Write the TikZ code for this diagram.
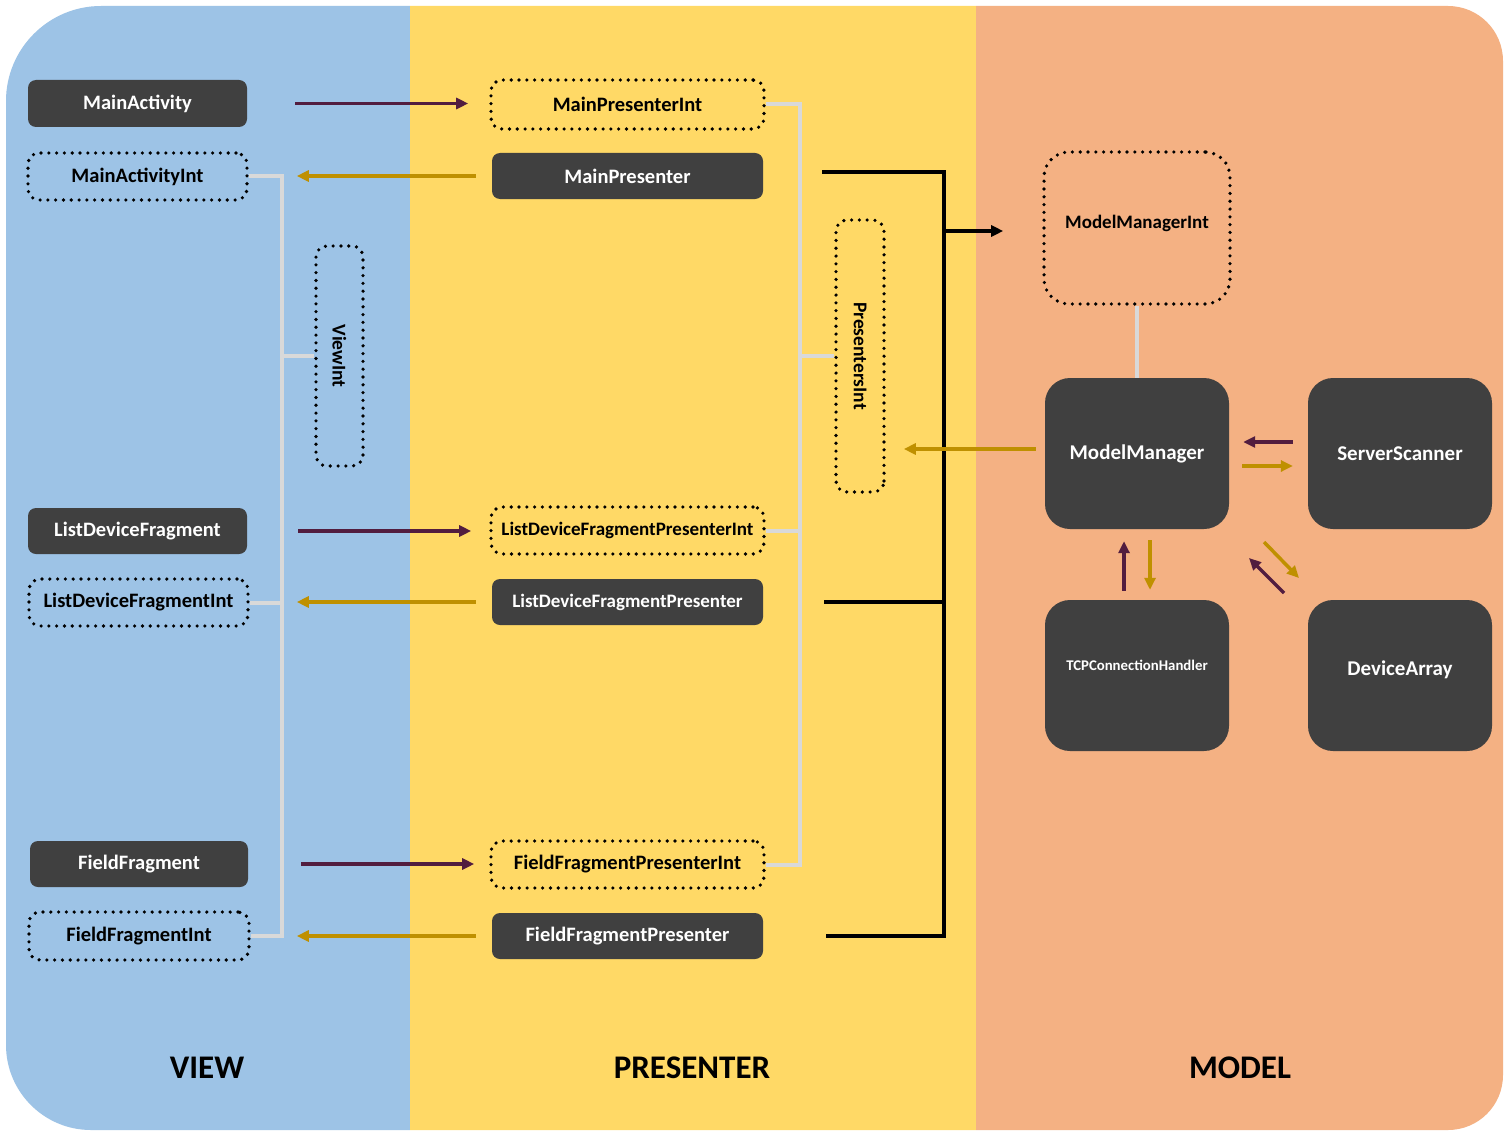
\documentclass[tikz,border=0pt]{standalone}
\usepackage{fontspec}
\setmainfont{Carlito}
\usetikzlibrary{arrows.meta,calc}
\definecolor{cblue}{HTML}{9DC3E6}
\definecolor{cyellow}{HTML}{FFD966}
\definecolor{corange}{HTML}{F4B183}
\definecolor{dk}{HTML}{404040}
\definecolor{lgray}{HTML}{D9D9D9}
\definecolor{gold}{HTML}{BF9000}
\definecolor{plum}{HTML}{521D3F}
\newcommand{\fs}[1]{\fontsize{#1}{#1}\selectfont}
\tikzset{
  darkbox/.style={fill=dk, draw=none, rounded corners=8pt, text=white, font=\bfseries\fs{20.5}, inner sep=0pt},
  bigbox/.style={fill=dk, draw=none, rounded corners=25pt, text=white, font=\bfseries\fs{21}, inner sep=0pt, minimum width=184pt, minimum height=151pt},
  dotbox/.style={draw=black, line width=3.6pt, dash pattern=on 0pt off 7.8pt, line cap=round, rounded corners=11pt, text=black, font=\bfseries\fs{20.5}, inner sep=0pt},
  parr/.style={draw=plum, line width=3.5pt, -{Triangle[length=12pt,width=11pt]}},
  garr/.style={draw=gold, line width=3.5pt, -{Triangle[length=12pt,width=11pt]}},
  gline/.style={draw=lgray, line width=4pt},
  bline/.style={draw=black, line width=3.5pt},
  lbl/.style={font=\bfseries\fs{33}, text=black},
}
\begin{document}
\begin{tikzpicture}[x=1pt,y=-1pt]
\useasboundingbox (0,0) rectangle (1506,1134);
\fill[white] (0,0) rectangle (1506,1134);
\begin{scope}
\clip (6,101) .. controls (6,48.6) and (48.6,6) .. (101,6) -- (1448,6)
  .. controls (1478.4,6) and (1503,30.6) .. (1503,61) -- (1503,1075)
  .. controls (1503,1105.4) and (1478.4,1130) .. (1448,1130) -- (91,1130)
  .. controls (44.1,1130) and (6,1091.9) .. (6,1045) -- cycle;
\fill[cblue] (0,0) rectangle (410,1134);
\fill[cyellow] (410,0) rectangle (976,1134);
\fill[corange] (976,0) rectangle (1506,1134);
\end{scope}

% VIEW column
\node[darkbox, minimum width=219pt, minimum height=47pt] (ma) at (137.5,103.5) {MainActivity};
\node[dotbox, minimum width=219pt, minimum height=47pt] (mai) at (137.5,176.5) {MainActivityInt};
\node[darkbox, minimum width=219pt, minimum height=46pt] (ldf) at (137.5,531) {ListDeviceFragment};
\node[dotbox, minimum width=219pt, minimum height=47pt] (ldfi) at (138.5,602.5) {ListDeviceFragmentInt};
\node[darkbox, minimum width=218pt, minimum height=46pt] (ff) at (139,864) {FieldFragment};
\node[dotbox, minimum width=220pt, minimum height=48pt] (ffi) at (139,936) {FieldFragmentInt};
\node[dotbox, rotate=-90, minimum width=220pt, minimum height=47pt, font=\bfseries\fs{19.5}] (vi) at (339.5,356) {ViewInt};

% PRESENTER column
\node[dotbox, minimum width=273pt, minimum height=49pt] (mpi) at (627.5,104.5) {MainPresenterInt};
\node[darkbox, minimum width=271pt, minimum height=46pt] (mp) at (627.5,176) {MainPresenter};
\node[dotbox, minimum width=273pt, minimum height=47pt, font=\bfseries\fs{19}] (ldpi) at (627.5,530.5) {ListDeviceFragmentPresenterInt};
\node[darkbox, minimum width=271pt, minimum height=46pt, font=\bfseries\fs{19}] (ldp) at (627.5,602) {ListDeviceFragmentPresenter};
\node[dotbox, minimum width=273pt, minimum height=47pt] (fpi) at (627.5,864.5) {FieldFragmentPresenterInt};
\node[darkbox, minimum width=271pt, minimum height=46pt] (fp) at (627.5,936) {FieldFragmentPresenter};
\node[dotbox, rotate=-90, minimum width=272pt, minimum height=48pt, font=\bfseries\fs{19.5}] (pi) at (860,356) {PresentersInt};

% MODEL column
\node[dotbox, minimum width=186pt, minimum height=152pt, rounded corners=25pt] (mmi) at (1137,228) {};
\node[font=\bfseries\fs{19}] (mmit) at (1137,223) {ModelManagerInt};
\node[bigbox] (mm) at (1137,453.5) {ModelManager};
\node[bigbox] (ss) at (1400,453.5) {ServerScanner};
\node[bigbox] (tcp) at (1137,675.5) {};
\node[font=\bfseries\fs{14.8}, text=white] (tcpt) at (1137,665) {TCPConnectionHandler};
\node[bigbox] (da) at (1400,675.5) {};
\node[font=\bfseries\fs{21}, text=white] (dat) at (1400,670) {DeviceArray};

% gray interface trunks
\coordinate (vt) at (282,0);
\coordinate (pt) at (800,0);
\draw[gline] (mai.east) -- (mai.east -| vt) -- (ffi.east -| vt) -- (ffi.east);
\draw[gline] (ldfi.east) -- (ldfi.east -| vt);
\draw[gline] (vi.south) -- (vi.south -| vt);
\draw[gline] (mpi.east) -- (mpi.east -| pt) -- (fpi.east -| pt) -- (fpi.east);
\draw[gline] (ldpi.east) -- (ldpi.east -| pt);
\draw[gline] (pi.south) -- (pi.south -| pt);
\draw[gline] (mmi.south) -- (mm.north);

% view <-> presenter arrows
\draw[parr, shorten <=48pt, shorten >=21pt] (ma.east) -- (ma.east -| mpi.west);
\draw[garr, shorten <=16pt, shorten >=48pt] (mp.west) -- (mp.west -| mai.east);
\draw[parr, shorten <=51pt, shorten >=18pt] (ldf.east) -- (ldf.east -| ldpi.west);
\draw[garr, shorten <=16pt, shorten >=47pt] (ldp.west) -- (ldp.west -| ldfi.east);
\draw[parr, shorten <=53pt, shorten >=15pt] (ff.east) -- (ff.east -| fpi.west);
\draw[garr, shorten <=16pt, shorten >=46pt] (fp.west) -- (fp.west -| ffi.east);

% black bracket presenters -> model
\coordinate (bx) at (944,0);
\draw[bline] ([xshift=59pt,yshift=4pt]mp.east) -- ([yshift=4pt]mp.east -| bx) -- (fp.east -| bx) -- ([xshift=63pt]fp.east);
\draw[bline] ([xshift=61pt]ldp.east) -- (ldp.east -| bx);
\draw[bline, -{Triangle[length=12pt,width=11pt]}, shorten >=39pt] ([yshift=-3pt]mmi.west -| bx) -- ([yshift=-3pt]mmi.west);

% model -> presenters
\draw[garr, shorten <=9pt, shorten >=18pt] ([yshift=4.5pt]mm.west) -- ([yshift=4.5pt]mm.west -| pi.north);

% model internal arrows
\draw[parr, shorten <=15pt, shorten >=14pt] ([yshift=11.5pt]ss.west) -- ([yshift=11.5pt]ss.west -| mm.east);
\draw[garr, shorten <=13pt, shorten >=15pt] ([yshift=-12.5pt]mm.east) -- ([yshift=-12.5pt]mm.east -| ss.west);
\draw[parr, shorten <=9pt, shorten >=12pt] ([xshift=-13pt]tcp.north) -- ([xshift=-13pt]mm.south);
\draw[garr, shorten <=11pt, shorten >=10pt] ([xshift=13pt]mm.south) -- ([xshift=13pt]tcp.north);
\coordinate (g1) at (1264,542);
\coordinate (g2) at (1299,578);
\coordinate (p1) at (1284,593);
\coordinate (p2) at (1249,558);
\draw[garr] (g1) -- (g2);
\draw[parr] (p1) -- (p2);

% column labels
\node[lbl] (lv) at (207,1068) {VIEW};
\node[lbl] (lp) at (692,1068) {PRESENTER};
\node[lbl] (lm) at (1240,1068) {MODEL};
\end{tikzpicture}
\end{document}
